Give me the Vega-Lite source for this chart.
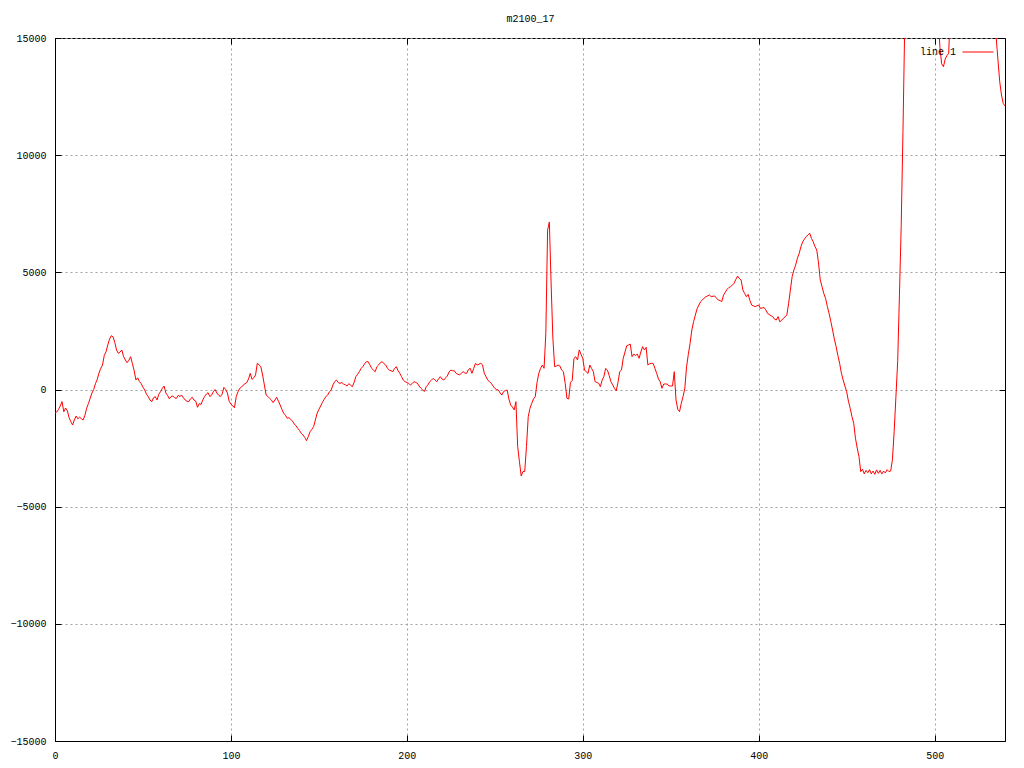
{
  "$schema": "https://vega.github.io/schema/vega-lite/v6.json",
  "width": 950,
  "height": 703,
  "autosize": {"type": "none"},
  "padding": {"left": 55, "top": 38, "right": 19, "bottom": 27},
  "background": "white",
  "config": {
    "view": {"stroke": "black", "strokeWidth": 1},
    "axis": {
      "labelFont": "Liberation Mono", "labelFontSize": 10, "labelColor": "black", "labelFlush": false, "format": "d",
      "domainColor": "black", "tickColor": "black", "tickSize": -6, "labelPadding": 15,
      "gridColor": "#a0a0a0", "gridDash": [2, 3], "gridWidth": 1, "title": null
    }
  },
  "data": {"values": [
{"x":0,"y":-1000},{"x":1,"y":-960},{"x":2,"y":-850},{"x":3,"y":-700},{"x":4,"y":-520},{"x":5,"y":-950},{"x":6,"y":-790},{"x":7,"y":-900},{"x":8,"y":-1200},{"x":9,"y":-1373},{"x":10,"y":-1515},{"x":11,"y":-1300},{"x":12,"y":-1130},{"x":13,"y":-1250},{"x":14,"y":-1180},{"x":15,"y":-1250},{"x":16,"y":-1300},{"x":17,"y":-1100},{"x":18,"y":-800},{"x":19,"y":-600},{"x":20,"y":-376},{"x":21,"y":-150},{"x":22,"y":0},{"x":23,"y":250},{"x":24,"y":435},{"x":25,"y":700},{"x":26,"y":900},{"x":27,"y":1045},{"x":28,"y":1450},{"x":29,"y":1613},{"x":30,"y":1900},{"x":31,"y":2150},{"x":32,"y":2296},{"x":33,"y":2250},{"x":34,"y":2000},{"x":35,"y":1685},{"x":36,"y":1545},{"x":37,"y":1600},{"x":38,"y":1685},{"x":39,"y":1400},{"x":40,"y":1259},{"x":41,"y":1144},{"x":42,"y":1250},{"x":43,"y":1400},{"x":44,"y":1100},{"x":45,"y":800},{"x":46,"y":405},{"x":47,"y":500},{"x":48,"y":340},{"x":49,"y":250},{"x":50,"y":100},{"x":51,"y":-21},{"x":52,"y":-200},{"x":53,"y":-306},{"x":54,"y":-450},{"x":55,"y":-520},{"x":56,"y":-350},{"x":57,"y":-306},{"x":58,"y":-448},{"x":59,"y":-200},{"x":60,"y":-94},{"x":61,"y":50},{"x":62,"y":150},{"x":63,"y":-150},{"x":64,"y":-250},{"x":65,"y":-400},{"x":66,"y":-300},{"x":67,"y":-280},{"x":68,"y":-350},{"x":69,"y":-380},{"x":70,"y":-250},{"x":71,"y":-300},{"x":72,"y":-240},{"x":73,"y":-350},{"x":74,"y":-448},{"x":75,"y":-500},{"x":76,"y":-520},{"x":77,"y":-400},{"x":78,"y":-330},{"x":79,"y":-450},{"x":80,"y":-500},{"x":81,"y":-760},{"x":82,"y":-600},{"x":83,"y":-640},{"x":84,"y":-450},{"x":85,"y":-300},{"x":86,"y":-200},{"x":87,"y":-135},{"x":88,"y":-300},{"x":89,"y":-240},{"x":90,"y":-100},{"x":91,"y":0},{"x":92,"y":-150},{"x":93,"y":-240},{"x":94,"y":-300},{"x":95,"y":-200},{"x":96,"y":90},{"x":97,"y":0},{"x":98,"y":-150},{"x":99,"y":-500},{"x":100,"y":-620},{"x":101,"y":-700},{"x":102,"y":-780},
{"x":103,"y":-306},{"x":104,"y":-100},{"x":105,"y":50},{"x":106,"y":100},{"x":107,"y":190},{"x":108,"y":250},{"x":109,"y":290},{"x":110,"y":450},{"x":111,"y":690},{"x":112,"y":435},{"x":113,"y":500},{"x":114,"y":620},{"x":115,"y":1117},{"x":116,"y":1050},{"x":117,"y":975},{"x":118,"y":620},{"x":119,"y":200},{"x":120,"y":-235},{"x":121,"y":-300},{"x":122,"y":-380},{"x":123,"y":-450},{"x":124,"y":-560},{"x":125,"y":-450},{"x":126,"y":-330},{"x":127,"y":-500},{"x":128,"y":-660},{"x":129,"y":-850},{"x":130,"y":-1015},{"x":131,"y":-1100},{"x":132,"y":-1230},{"x":133,"y":-1200},{"x":134,"y":-1270},{"x":135,"y":-1350},{"x":136,"y":-1470},{"x":137,"y":-1550},{"x":138,"y":-1655},{"x":139,"y":-1750},{"x":140,"y":-1870},{"x":141,"y":-1940},{"x":142,"y":-2050},{"x":143,"y":-2183},{"x":144,"y":-2000},{"x":145,"y":-1800},{"x":146,"y":-1700},{"x":147,"y":-1585},{"x":148,"y":-1300},{"x":149,"y":-1015},{"x":150,"y":-850},{"x":151,"y":-705},{"x":152,"y":-550},{"x":153,"y":-420},{"x":154,"y":-300},{"x":155,"y":-235},{"x":156,"y":-100},{"x":157,"y":-20},{"x":158,"y":200},{"x":159,"y":335},{"x":160,"y":405},{"x":161,"y":300},{"x":162,"y":260},{"x":163,"y":300},{"x":164,"y":235},{"x":165,"y":200},{"x":166,"y":150},{"x":167,"y":250},{"x":168,"y":190},{"x":169,"y":120},{"x":170,"y":300},{"x":171,"y":547},{"x":172,"y":650},{"x":173,"y":760},{"x":174,"y":900},{"x":175,"y":975},{"x":176,"y":1100},{"x":177,"y":1187},{"x":178,"y":1187},{"x":179,"y":1050},{"x":180,"y":905},{"x":181,"y":820},{"x":182,"y":760},{"x":183,"y":975},{"x":184,"y":1050},{"x":185,"y":1150},{"x":186,"y":1187},{"x":187,"y":1100},{"x":188,"y":1045},{"x":189,"y":900},{"x":190,"y":830},{"x":191,"y":800},{"x":192,"y":760},{"x":193,"y":900},{"x":194,"y":975},{"x":195,"y":800},{"x":196,"y":690},{"x":197,"y":547},{"x":198,"y":400},{"x":199,"y":335},{"x":200,"y":300},
{"x":201,"y":265},{"x":202,"y":190},{"x":203,"y":250},{"x":204,"y":335},{"x":205,"y":300},{"x":206,"y":265},{"x":207,"y":150},{"x":208,"y":50},{"x":209,"y":-20},{"x":210,"y":-85},{"x":211,"y":120},{"x":212,"y":200},{"x":213,"y":335},{"x":214,"y":400},{"x":215,"y":475},{"x":216,"y":400},{"x":217,"y":335},{"x":218,"y":450},{"x":219,"y":547},{"x":220,"y":450},{"x":221,"y":405},{"x":222,"y":500},{"x":223,"y":575},{"x":224,"y":750},{"x":225,"y":830},{"x":226,"y":800},{"x":227,"y":800},{"x":228,"y":690},{"x":229,"y":650},{"x":230,"y":620},{"x":231,"y":700},{"x":232,"y":760},{"x":233,"y":700},{"x":234,"y":690},{"x":235,"y":850},{"x":236,"y":905},{"x":237,"y":690},{"x":238,"y":900},{"x":239,"y":1117},{"x":240,"y":1045},{"x":241,"y":1080},{"x":242,"y":1117},{"x":243,"y":1050},{"x":244,"y":700},{"x":245,"y":547},{"x":246,"y":400},{"x":247,"y":335},{"x":248,"y":265},{"x":249,"y":150},{"x":250,"y":50},{"x":251,"y":0},{"x":252,"y":-20},{"x":253,"y":-150},{"x":254,"y":-235},{"x":255,"y":-85},{"x":256,"y":-50},{"x":257,"y":-20},{"x":258,"y":-400},{"x":259,"y":-660},{"x":260,"y":-750},{"x":261,"y":-870},{"x":262,"y":-520},{"x":263,"y":-2440},{"x":264,"y":-3080},{"x":265,"y":-3690},{"x":266,"y":-3500},{"x":267,"y":-3500},{"x":268,"y":-2440},{"x":269,"y":-1160},{"x":270,"y":-800},{"x":271,"y":-590},{"x":272,"y":-400},{"x":273,"y":-306},{"x":274,"y":300},{"x":275,"y":690},{"x":276,"y":900},{"x":277,"y":1045},{"x":278,"y":905},{"x":279,"y":2398},{"x":280,"y":6800},{"x":281,"y":7150},{"x":282,"y":4500},{"x":283,"y":2200},{"x":284,"y":975},{"x":285,"y":1000},{"x":286,"y":1045},{"x":287,"y":1000},{"x":288,"y":830},{"x":289,"y":760},{"x":290,"y":264},{"x":291,"y":-376},{"x":292,"y":-405},{"x":293,"y":300},{"x":294,"y":390},{"x":295,"y":1330},{"x":296,"y":1400},{"x":297,"y":1260},{"x":298,"y":1690},{"x":299,"y":1500},{"x":300,"y":1330},
{"x":301,"y":830},{"x":302,"y":750},{"x":303,"y":690},{"x":304,"y":1045},{"x":305,"y":900},{"x":306,"y":760},{"x":307,"y":335},{"x":308,"y":300},{"x":309,"y":265},{"x":310,"y":120},{"x":311,"y":400},{"x":312,"y":547},{"x":313,"y":900},{"x":314,"y":830},{"x":315,"y":600},{"x":316,"y":335},{"x":317,"y":200},{"x":318,"y":50},{"x":319,"y":-60},{"x":320,"y":300},{"x":321,"y":760},{"x":322,"y":830},{"x":323,"y":1330},{"x":324,"y":1600},{"x":325,"y":1870},{"x":326,"y":1900},{"x":327,"y":1940},{"x":328,"y":1400},{"x":329,"y":1510},{"x":330,"y":1450},{"x":331,"y":1510},{"x":332,"y":1330},{"x":333,"y":1600},{"x":334,"y":1830},{"x":335,"y":1690},{"x":336,"y":1800},{"x":337,"y":1045},{"x":338,"y":1100},{"x":339,"y":1115},{"x":340,"y":1115},{"x":341,"y":900},{"x":342,"y":690},{"x":343,"y":450},{"x":344,"y":335},{"x":345,"y":50},{"x":346,"y":235},{"x":347,"y":235},{"x":348,"y":235},{"x":349,"y":150},{"x":350,"y":150},{"x":351,"y":150},{"x":352,"y":760},{"x":353,"y":-448},{"x":354,"y":-846},{"x":355,"y":-945},{"x":356,"y":-590},{"x":357,"y":-300},{"x":358,"y":50},{"x":359,"y":975},{"x":360,"y":1500},{"x":361,"y":1970},{"x":362,"y":2540},{"x":363,"y":2900},{"x":364,"y":3180},{"x":365,"y":3450},{"x":366,"y":3605},{"x":367,"y":3750},{"x":368,"y":3820},{"x":369,"y":3900},{"x":370,"y":3960},{"x":371,"y":4000},{"x":372,"y":4030},{"x":373,"y":3960},{"x":374,"y":3980},{"x":375,"y":3990},{"x":376,"y":3900},{"x":377,"y":3820},{"x":378,"y":3800},{"x":379,"y":3750},{"x":380,"y":4030},{"x":381,"y":4150},{"x":382,"y":4275},{"x":383,"y":4350},{"x":384,"y":4390},{"x":385,"y":4450},{"x":386,"y":4530},{"x":387,"y":4700},{"x":388,"y":4840},{"x":389,"y":4740},{"x":390,"y":4670},
{"x":391,"y":4245},{"x":392,"y":4100},{"x":393,"y":3960},{"x":394,"y":4060},{"x":395,"y":3800},{"x":396,"y":3605},{"x":397,"y":3570},{"x":398,"y":3535},{"x":399,"y":3570},{"x":400,"y":3605},{"x":401,"y":3460},{"x":402,"y":3480},{"x":403,"y":3500},{"x":404,"y":3400},{"x":405,"y":3250},{"x":406,"y":3200},{"x":407,"y":3150},{"x":408,"y":3110},{"x":409,"y":3000},{"x":410,"y":2965},{"x":411,"y":3110},{"x":412,"y":2890},{"x":413,"y":2950},{"x":414,"y":3040},{"x":415,"y":3100},{"x":416,"y":3180},{"x":417,"y":3675},{"x":418,"y":4245},{"x":419,"y":4815},{"x":420,"y":5100},{"x":421,"y":5310},{"x":422,"y":5600},{"x":423,"y":5800},{"x":424,"y":6100},{"x":425,"y":6300},{"x":426,"y":6420},{"x":427,"y":6520},{"x":428,"y":6600},{"x":429,"y":6665},{"x":430,"y":6450},{"x":431,"y":6300},{"x":432,"y":6100},{"x":433,"y":5950},{"x":434,"y":5400},{"x":435,"y":4670},{"x":436,"y":4390},{"x":437,"y":4100},{"x":438,"y":3890},{"x":439,"y":3550},{"x":440,"y":3250},{"x":441,"y":2900},{"x":442,"y":2540},{"x":443,"y":2150},{"x":444,"y":1830},{"x":445,"y":1450},{"x":446,"y":1117},{"x":447,"y":700},{"x":448,"y":405},{"x":449,"y":150},{"x":450,"y":-94},{"x":451,"y":-500},{"x":452,"y":-800},{"x":453,"y":-1150},{"x":454,"y":-1440},{"x":455,"y":-2080},{"x":456,"y":-2500},{"x":457,"y":-2865},{"x":458,"y":-3505},{"x":459,"y":-3400},{"x":460,"y":-3600},{"x":461,"y":-3450},{"x":462,"y":-3550},{"x":463,"y":-3420},{"x":464,"y":-3600},{"x":465,"y":-3480},{"x":466,"y":-3620},{"x":467,"y":-3430},{"x":468,"y":-3580},{"x":469,"y":-3450},{"x":470,"y":-3600},{"x":471,"y":-3480},{"x":472,"y":-3560},{"x":473,"y":-3420},{"x":474,"y":-3500},{"x":475,"y":-3480},{"x":476,"y":-3000},{"x":477,"y":-1800},{"x":478,"y":-300},{"x":479,"y":1200},{"x":480,"y":4030},{"x":481,"y":7000},{"x":482,"y":11000},{"x":483,"y":15500},{"x":484,"y":19000},{"x":488,"y":21000},{"x":494,"y":21500},{"x":500,"y":20000},{"x":502,"y":16000},{"x":503,"y":14600},{"x":504,"y":13900},{"x":505,"y":13775},{"x":506,"y":14100},{"x":507,"y":14250},{"x":508,"y":14350},{"x":509,"y":16500},{"x":511,"y":19500},{"x":518,"y":21000},{"x":526,"y":20500},{"x":532,"y":19000},{"x":534,"y":16500},{"x":535,"y":15000},{"x":536,"y":14060},{"x":537,"y":13135},{"x":538,"y":12565},{"x":539,"y":12210},{"x":540,"y":12100}
  ]},
  "layer": [
    {
      "mark": {"type": "line", "strokeWidth": 1, "clip": true, "interpolate": "linear"},
      "encoding": {
        "x": {"field": "x", "type": "quantitative", "scale": {"domain": [0, 540], "nice": false, "zero": false},
              "axis": {"orient": "bottom", "values": [0, 100, 200, 300, 400, 500], "grid": true}},
        "y": {"field": "y", "type": "quantitative", "scale": {"domain": [-15000, 15000], "nice": false},
              "axis": {"orient": "left", "values": [-15000, -10000, -5000, 0, 5000, 10000, 15000], "grid": true}},
        "color": {"datum": "line 1", "type": "nominal", "scale": {"range": ["#ff0000"]},
                  "legend": {"title": null, "orient": "none", "legendX": 907, "legendY": -2, "padding": 0,
                             "symbolType": "stroke", "symbolSize": 961, "symbolStrokeWidth": 1,
                             "labelAlign": "right", "labelOffset": -38, "labelFont": "Liberation Mono",
                             "labelFontSize": 10, "labelColor": "black"}}
      }
    },
    {
      "mark": {"type": "line", "strokeOpacity": 0},
      "encoding": {
        "x": {"field": "x", "type": "quantitative", "scale": {"domain": [0, 540], "nice": false, "zero": false},
              "axis": {"orient": "top", "values": [0, 100, 200, 300, 400, 500], "labels": false, "grid": false, "domain": false, "labelPadding": 0,
                       "title": "m2100_17", "titleFont": "Liberation Mono", "titleFontSize": 10, "titleFontWeight": "normal", "titleColor": "black", "titlePadding": 14}},
        "y": {"field": "y", "type": "quantitative", "scale": {"domain": [-15000, 15000], "nice": false},
              "axis": {"orient": "right", "values": [-15000, -10000, -5000, 0, 5000, 10000, 15000], "labels": false, "grid": false, "domain": false, "labelPadding": 0}}
      }
    }
  ],
  "resolve": {"scale": {"x": "independent", "y": "independent"}}
}
